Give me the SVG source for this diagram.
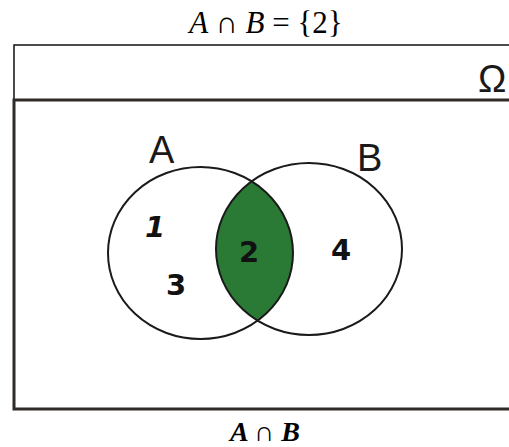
<svg xmlns="http://www.w3.org/2000/svg" width="509" height="447" viewBox="0 0 509 447">
<style>
.frame{fill:none;stroke:#2e2b29;stroke-width:3}
.thin{fill:none;stroke:#111;stroke-width:1.5}
.circ{fill:none;stroke:#1a1a1a;stroke-width:2}
.lbl{font-family:"Liberation Sans",Arial,sans-serif;font-size:38px;fill:#1a1a1a}
.num{font-family:"DejaVu Sans",sans-serif;font-weight:bold;font-size:29px;fill:#111}
.math{font-family:"Liberation Serif","DejaVu Serif",serif;fill:#000}
</style>
<defs>
<clipPath id="clipA"><ellipse cx="200.5" cy="253" rx="92.5" ry="86"/></clipPath>
</defs>
<rect width="509" height="447" fill="#fff"/>
<g id="title"><text class="math" x="266" y="33" font-size="31" font-style="italic" text-anchor="middle">A <tspan font-style="normal">∩</tspan> B <tspan font-style="normal">= {2}</tspan></text></g>
<g id="universe">
<path class="thin" d="M509,45 H14 V100"/>
<path class="frame" d="M509,100 H14 V409 H509"/>
<text class="lbl" x="478" y="92" font-size="31">Ω</text>
</g>
<g id="intersection">
<ellipse cx="309" cy="249" rx="93" ry="86" fill="#2a7a36" clip-path="url(#clipA)"/>
</g>
<g id="setA">
<ellipse class="circ" cx="200.5" cy="253" rx="92.5" ry="86"/>
<text class="lbl" x="149" y="163">A</text>
</g>
<g id="setB">
<ellipse class="circ" cx="309" cy="249" rx="93" ry="86"/>
<text class="lbl" x="357" y="171">B</text>
</g>
<g id="elements">
<text class="num" x="145" y="237" font-style="italic">1</text>
<text class="num" x="166" y="295">3</text>
<text class="num" x="239" y="262">2</text>
<text class="num" x="331" y="260">4</text>
</g>
<g id="caption"><text class="math" x="265" y="441" font-size="28" font-weight="bold" font-style="italic" text-anchor="middle">A <tspan font-style="normal" font-weight="normal">∩</tspan> B</text></g>
</svg>
